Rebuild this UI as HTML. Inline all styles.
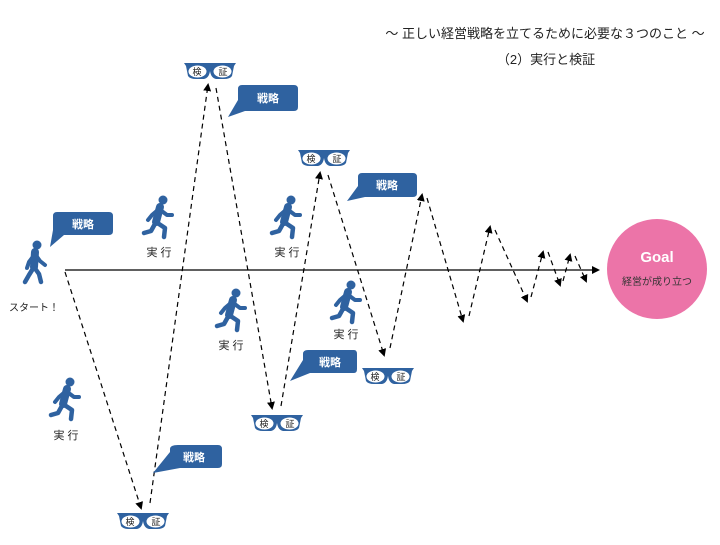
<!DOCTYPE html>
<html><head><meta charset="utf-8"><style>
body{margin:0;background:#fff}
svg text{font-family:"Liberation Sans","Noto Sans CJK JP",sans-serif}
</style></head><body>
<svg width="720" height="540" viewBox="0 0 720 540" xmlns="http://www.w3.org/2000/svg">
<defs>
<marker id="ar" markerWidth="8" markerHeight="8" refX="6" refY="4" orient="auto" markerUnits="userSpaceOnUse">
<path d="M0,0 L8,4 L0,8 z" fill="#000"/></marker>
<g id="run" fill="#2f62a0" stroke="#2f62a0" stroke-linecap="round" stroke-linejoin="round">
<circle cx="5" cy="-18" r="4.5" stroke="none"/>
<path d="M2,-11 L-2,4" stroke-width="8" fill="none"/>
<path d="M1,-9 L9,-3 L14,-3 M1,-9 L-6,-3 L-10,2" stroke-width="4" fill="none"/>
<path d="M-2,4 L7,10 L6,19 M-2,4 L-7,13 L-14,15" stroke-width="4.5" fill="none"/>
</g>
<g id="walk" fill="#2f62a0" stroke="#2f62a0" stroke-linecap="round" stroke-linejoin="round">
<circle cx="2" cy="-18" r="4.5" stroke="none"/>
<path d="M0,-11 L-1,4" stroke-width="8" fill="none"/>
<path d="M0,-9 L-6,-1 L-8,5 M0,-9 L5,-2 L10,2" stroke-width="4" fill="none"/>
<path d="M-1,4 L-6,12 L-10,19 M-1,4 L4,11 L6,19" stroke-width="4.5" fill="none"/>
</g>
<g id="gl">
<path d="M-26,-7 L26,-7 L24,-4 L22,6 Q20,9 14,9 L6,9 Q1,8 0,1 Q-1,8 -6,9 L-14,9 Q-20,9 -22,6 L-24,-4 Z" fill="#2f62a0"/>
<ellipse cx="-12.5" cy="1.5" rx="9" ry="6" fill="#fff"/>
<ellipse cx="12.5" cy="1.5" rx="9" ry="6" fill="#fff"/>
</g>
</defs>

<text x="545" y="38" font-size="13" text-anchor="middle" fill="#222">～ 正しい経営戦略を立てるために必要な３つのこと ～</text>
<text x="546" y="64" font-size="13" text-anchor="middle" fill="#222">（2）実行と検証</text>

<line x1="65" y1="270" x2="598" y2="270" stroke="#000" stroke-width="1.3" marker-end="url(#ar)"/>

<g stroke="#000" stroke-width="1.2" stroke-dasharray="5,4" fill="none" marker-end="url(#ar)">
<line x1="65" y1="272" x2="141" y2="508"/>
<line x1="150" y1="503" x2="208" y2="85"/>
<line x1="216" y1="88" x2="272" y2="408"/>
<line x1="281" y1="406" x2="320" y2="173"/>
<line x1="328" y1="175" x2="384" y2="355"/>
<line x1="390" y1="348" x2="422" y2="195"/>
<line x1="427" y1="198" x2="463" y2="321"/>
<line x1="469" y1="316" x2="490" y2="227"/>
<line x1="495" y1="230" x2="527" y2="301"/>
<line x1="531" y1="297" x2="543" y2="252"/>
<line x1="548" y1="252" x2="560" y2="285"/>
<line x1="563" y1="281" x2="570" y2="255"/>
<line x1="575" y1="256" x2="586" y2="281"/>
</g>

<circle cx="657" cy="269" r="50" fill="#ec74a8"/>
<text x="657" y="262" font-size="15" font-weight="bold" fill="#fff" text-anchor="middle">Goal</text>
<text x="657" y="285" font-size="10" fill="#333" text-anchor="middle">経営が成り立つ</text>

<g fill="#2f62a0">
<path d="M57,212 H109 Q113,212 113,216 V231 Q113,235 109,235 H64 L50,247 L53,230 V216 Q53,212 57,212Z"/>
<path d="M242,85 H294 Q298,85 298,89 V107 Q298,111 294,111 H245 L228,117 L238,100 V89 Q238,85 242,85Z"/>
<path d="M362,173 H413 Q417,173 417,177 V193 Q417,197 413,197 H365 L347,201 L358,186 V177 Q358,173 362,173Z"/>
<path d="M308,350 H354 Q357,350 357,354 V369 Q357,373 354,373 H310 L290,381 L303,360 V354 Q303,350 308,350Z"/>
<path d="M178,445 H218 Q222,445 222,449 V464 Q222,468 218,468 H180 L153,473 L170,452 V449 Q170,445 178,445Z"/>
</g>
<g font-size="11" font-weight="bold" fill="#fff" text-anchor="middle">
<text x="83" y="228">戦略</text>
<text x="268" y="102">戦略</text>
<text x="387" y="189">戦略</text>
<text x="330" y="366">戦略</text>
<text x="194" y="461">戦略</text>
</g>

<g font-size="9" fill="#222" text-anchor="middle">
<use href="#gl" x="210" y="70"/><text x="197" y="75">検</text><text x="223" y="75">証</text>
<use href="#gl" x="324" y="157"/><text x="311" y="162">検</text><text x="337" y="162">証</text>
<use href="#gl" x="388" y="375"/><text x="375" y="380">検</text><text x="401" y="380">証</text>
<use href="#gl" x="277" y="422"/><text x="264" y="427">検</text><text x="290" y="427">証</text>
<use href="#gl" x="143" y="520"/><text x="130" y="525">検</text><text x="156" y="525">証</text>
</g>

<use href="#walk" x="35" y="263"/>
<use href="#run" x="158" y="218"/>
<use href="#run" x="286" y="218"/>
<use href="#run" x="231" y="311"/>
<use href="#run" x="346" y="303"/>
<use href="#run" x="65" y="400"/>
<g font-size="11" fill="#222" text-anchor="middle">
<text x="34" y="311" font-size="10">スタート！</text>
<text x="159" y="256">実 行</text>
<text x="287" y="256">実 行</text>
<text x="231" y="349">実 行</text>
<text x="346" y="338">実 行</text>
<text x="66" y="439">実 行</text>
</g>
</svg>
</body></html>
